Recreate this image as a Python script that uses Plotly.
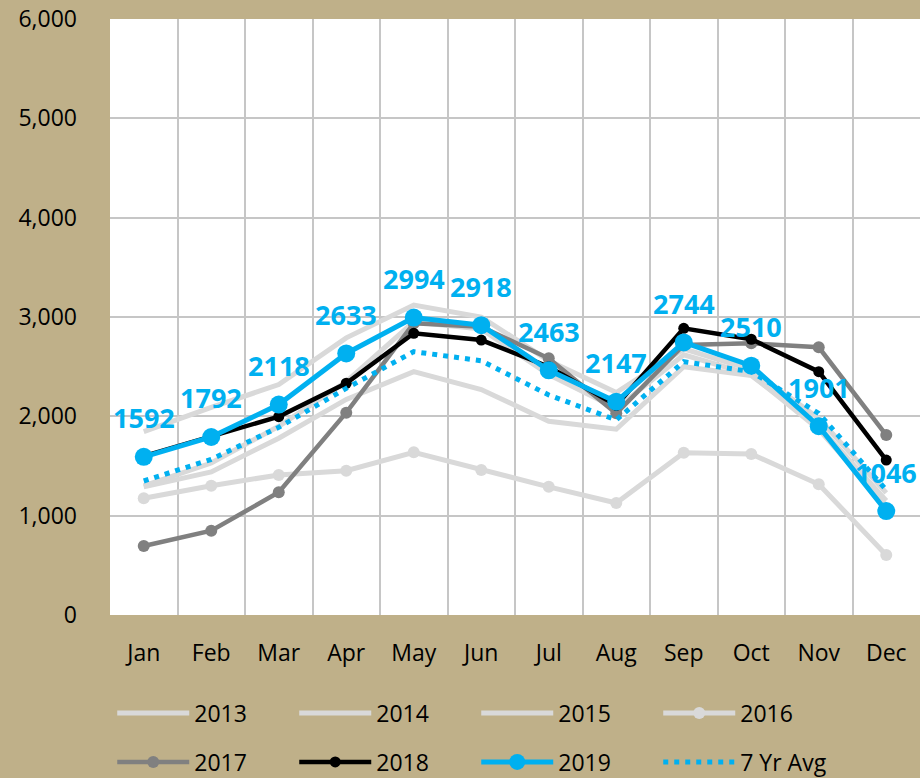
import plotly.graph_objects as go

months = ["Jan", "Feb", "Mar", "Apr", "May", "Jun", "Jul", "Aug", "Sep", "Oct", "Nov", "Dec"]
y2013 = [1846, 2090, 2320, 2790, 3120, 3000, 2560, 2240, 2680, 2470, 1980, 1230]
y2014 = [1290, 1440, 1780, 2170, 2450, 2270, 1950, 1870, 2500, 2410, 1900, 1150]
y2015 = [1300, 1530, 1900, 2350, 2950, 2880, 2420, 2080, 2620, 2420, 1870, 1100]
y2016 = [1175, 1302, 1410, 1453, 1638, 1460, 1290, 1128, 1634, 1621, 1316, 604]
y2017 = [695, 849, 1235, 2037, 2936, 2903, 2584, 2030, 2718, 2735, 2695, 1812]
y2018 = [1600, 1795, 1997, 2333, 2836, 2768, 2500, 2110, 2886, 2776, 2450, 1560]
y2019 = [1592, 1792, 2118, 2633, 2994, 2918, 2463, 2147, 2744, 2510, 1901, 1046]
avg7 = [1349, 1567, 1890, 2282, 2651, 2560, 2215, 1963, 2550, 2450, 2030, 1258]
y_ticks = [0, 1000, 2000, 3000, 4000, 5000, 6000]

LIGHT = "#D9D9D9"
BLUE = "#00B0F0"
FONT = "Open Sans"

fig = go.Figure()
for name, ys in [("2013", y2013), ("2014", y2014), ("2015", y2015)]:
    fig.add_trace(go.Scatter(x=months, y=ys, name=name, mode="lines",
                             line=dict(color=LIGHT, width=5), legend="legend"))
fig.add_trace(go.Scatter(x=months, y=y2016, name="2016", mode="lines+markers",
                         line=dict(color=LIGHT, width=5), marker=dict(color=LIGHT, size=12),
                         legend="legend"))
fig.add_trace(go.Scatter(x=months, y=y2017, name="2017", mode="lines+markers",
                         line=dict(color="#808080", width=4.5), marker=dict(color="#808080", size=12),
                         legend="legend2"))
fig.add_trace(go.Scatter(x=months, y=y2018, name="2018", mode="lines+markers",
                         line=dict(color="#000000", width=4.5), marker=dict(color="#000000", size=11),
                         legend="legend2"))
fig.add_trace(go.Scatter(x=months, y=y2019, name="2019", mode="lines+markers",
                         line=dict(color=BLUE, width=5), marker=dict(color=BLUE, size=18),
                         legend="legend2"))
fig.add_trace(go.Scatter(x=months, y=avg7, name="7 Yr Avg", mode="lines",
                         line=dict(color=BLUE, width=5, dash="5px,6px"),
                         legend="legend2"))

for m, v in zip(months, y2019):
    fig.add_annotation(x=m, y=v, text=str(v), showarrow=False, yshift=39,
                       font=dict(family=FONT, size=27, color=BLUE, weight="bold"))

legend_common = dict(orientation="h", xref="container", yref="container",
                     xanchor="left", yanchor="middle", entrywidth=95, itemwidth=72,
                     font=dict(family=FONT, size=23, color="#000000"),
                     bgcolor="rgba(0,0,0,0)", itemclick=False)

fig.update_layout(
    width=920, height=778,
    margin=dict(l=110, r=0, t=19, b=163, autoexpand=False),
    paper_bgcolor="#BFB089",
    plot_bgcolor="#FFFFFF",
    showlegend=True,
    legend=dict(x=0.122, y=65 / 778, **legend_common),
    legend2=dict(x=0.122, y=16 / 778, **legend_common),
    xaxis=dict(type="category", tickson="boundaries", showgrid=True, gridcolor="#C6C6C6",
               gridwidth=2, ticks="", showline=False, range=[-0.5, 11.5],
               tickfont=dict(family=FONT, size=23, color="#000000"), ticklabelstandoff=22),
    yaxis=dict(range=[0, 6000], tickvals=y_ticks, tickformat=",d", showgrid=True,
               gridcolor="#C6C6C6", gridwidth=2, zeroline=False, showline=False, ticks="",
               tickfont=dict(family=FONT, size=23, color="#000000"), ticklabelstandoff=32),
)

fig.write_html("out.html", config={"displayModeBar": False},
               post_script="document.body.style.margin='0';")
